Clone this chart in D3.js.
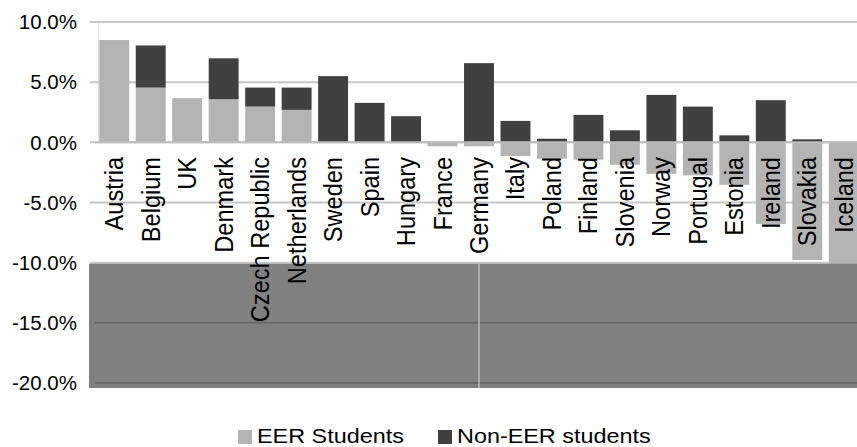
<!DOCTYPE html>
<html><head><meta charset="utf-8">
<script src="https://cdn.jsdelivr.net/npm/d3@7"></script>
<style>body{margin:0;background:#fff}svg{display:block;font-family:"Liberation Sans",Arial,sans-serif}</style>
</head><body><svg id="c" width="857" height="447"></svg>
<script>
const categories = ["Austria","Belgium","UK","Denmark","Czech Republic","Netherlands","Sweden","Spain","Hungary","France","Germany","Italy","Poland","Finland","Slovenia","Norway","Portugal","Estonia","Ireland","Slovakia","Iceland"];
const eerStudents = [8.5,4.55,3.67,3.58,2.97,2.7,0,0,0,-0.33,-0.33,-1.14,-1.36,-1.44,-1.86,-2.62,-2.75,-3.53,-6.78,-9.78,-20];
const nonEerStudents = [0,3.5,0,3.4,1.58,1.85,5.5,3.28,2.17,0,6.58,1.78,0.3,2.28,1.0,3.94,2.97,0.58,3.5,0.25,0];
const yTicks = [10,5,0,-5,-10,-15,-20];
const seriesNames = ["EER Students","Non-EER students"];
const colors = ["#b4b4b4","#404040"];

const svg = d3.select("#c");
const y = d3.scaleLinear().domain([-20,10]).range([383,22]);
const x = d3.scaleBand().domain(categories).range([96,862]).paddingInner(0.18).paddingOuter(0.09);

// axis ticks + faint vertical axis
svg.append("line").attr("x1",98.5).attr("x2",98.5).attr("y1",y(10)).attr("y2",y(0))
  .attr("stroke","#e0e0e0").attr("stroke-width",1);
svg.append("g").selectAll("line").data(yTicks).join("line")
  .attr("x1",90).attr("x2",857).attr("y1",d=>y(d)).attr("y2",d=>y(d))
  .attr("stroke","#c8c8c8").attr("stroke-width",2);

// bars
const rows = categories.map((c,i)=>({c,e:eerStudents[i],n:nonEerStudents[i]}));
rows.forEach(r=>{
  const segs=[];
  let pos=0, neg=0;
  [[r.e,0],[r.n,1]].forEach(([v,k])=>{
    if(v>=0){segs.push({y0:pos,y1:pos+v,k});pos+=v;}
    else{segs.push({y0:neg+v,y1:neg,k});neg+=v;}
  });
  r.segs=segs;
});
svg.append("g").selectAll("g").data(rows).join("g").selectAll("rect")
  .data(d=>d.segs.map(s=>({...s,c:d.c}))).join("rect")
  .attr("x",d=>x(d.c)).attr("width",x.bandwidth())
  .attr("y",d=>y(d.y1)).attr("height",d=>Math.max(0,y(d.y0)-y(d.y1)))
  .attr("fill",d=>colors[d.k]);

// zero axis line
svg.append("line").attr("x1",95).attr("x2",857).attr("y1",y(0)).attr("y2",y(0))
  .attr("stroke","#bdbdbd").attr("stroke-width",2);

// grey block overlay
svg.append("rect").attr("x",89).attr("y",y(-10)+1).attr("width",857-89).attr("height",y(-20)+5-y(-10)-1)
  .attr("fill","#808080");
svg.append("g").selectAll("line").data([-15,-20]).join("line")
  .attr("x1",95).attr("x2",857).attr("y1",d=>y(d)).attr("y2",d=>y(d))
  .attr("stroke","#6a6a6a").attr("stroke-width",2);
svg.append("line").attr("x1",x("Germany")+x.bandwidth()/2).attr("x2",x("Germany")+x.bandwidth()/2)
  .attr("y1",y(-10)+1).attr("y2",y(-20)+5).attr("stroke","#d8d8d8").attr("stroke-width",1);

// y tick labels
svg.append("g").selectAll("text").data(yTicks).join("text")
  .attr("x",77).attr("y",d=>y(d)).attr("dy","0.35em").attr("text-anchor","end")
  .attr("font-size",20.5).attr("fill","#000").text(d=>d.toFixed(1)+"%");

// category labels
svg.append("g").selectAll("text").data(categories).join("text")
  .attr("transform",d=>`translate(${x(d)+x.bandwidth()/2+9},157) scale(1.07,1) rotate(-90)`)
  .attr("text-anchor","end").attr("font-size",23.6).attr("fill","#000").text(d=>d);

// legend
const leg = svg.append("g");
const legX=[238,438], legTX=[257,457];
seriesNames.forEach((s,i)=>{
  leg.append("rect").attr("x",legX[i]).attr("y",430).attr("width",14).attr("height",14).attr("fill",colors[i]);
  leg.append("text").attr("transform",`translate(${legTX[i]},442.5) scale(1.2,1)`)
    .attr("font-size",19.5).attr("fill","#000").text(s);
});
</script></body></html>
